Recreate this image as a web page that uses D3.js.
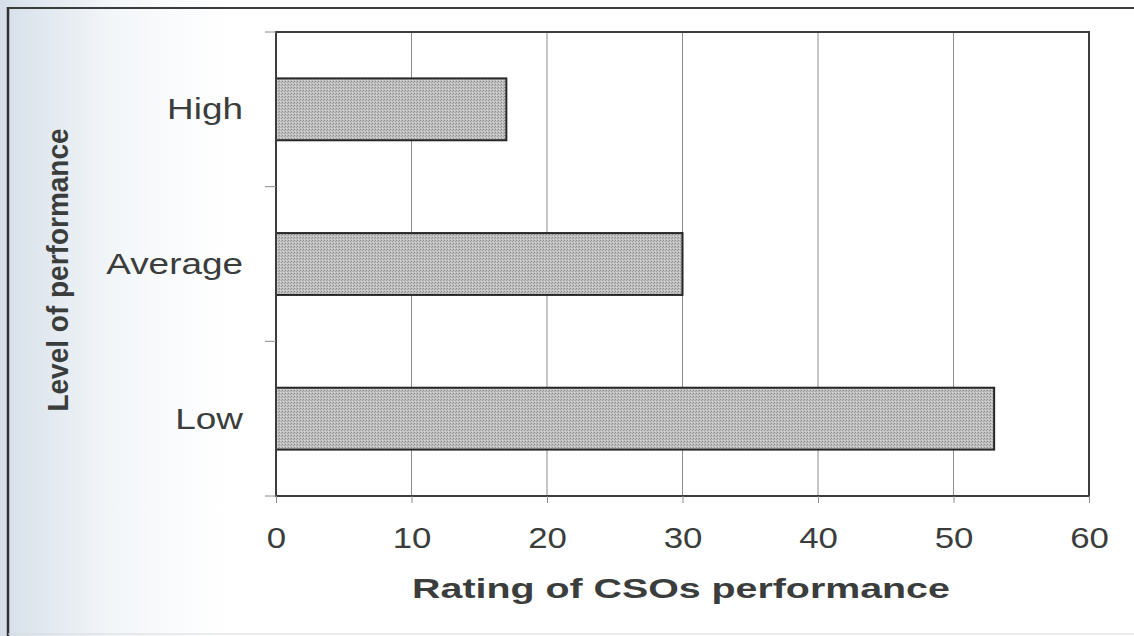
<!DOCTYPE html>
<html>
<head>
<meta charset="utf-8">
<script src="https://cdn.jsdelivr.net/npm/d3@7"></script>
<style>
  html, body { margin: 0; padding: 0; background: #fff; }
  svg { display: block; }
  text { font-family: "Liberation Sans", Arial, sans-serif; fill: #3a3d3c; }
</style>
</head>
<body>
<svg id="chart" width="1134" height="636"></svg>
<script>
// ---- data ----
const categories = ["High", "Average", "Low"];
const values = [17, 30, 53];
const xTicks = [0, 10, 20, 30, 40, 50, 60];
const xTitle = "Rating of CSOs performance";
const yTitle = "Level of performance";

// ---- layout ----
const W = 1134, H = 636;
const plot = { left: 276, right: 1089, top: 32, bottom: 496 };

const svg = d3.select("#chart");
const defs = svg.append("defs");

// background tint of the scanned page (left edge bluish)
const grad = defs.append("linearGradient").attr("id", "bg").attr("x1", 0).attr("x2", 1).attr("y1", 0).attr("y2", 0);
grad.append("stop").attr("offset", "0").attr("stop-color", "#d6dfe9");
grad.append("stop").attr("offset", "0.1").attr("stop-color", "#f3f6f9");
grad.append("stop").attr("offset", "0.2").attr("stop-color", "#ffffff");
grad.append("stop").attr("offset", "1").attr("stop-color", "#ffffff");
svg.append("rect").attr("width", W).attr("height", H).attr("fill", "url(#bg)");

// stippled bar fill
const pat = defs.append("pattern").attr("id", "stip").attr("width", 3).attr("height", 3)
  .attr("patternUnits", "userSpaceOnUse");
pat.append("rect").attr("width", 3).attr("height", 3).attr("fill", "#c0c0c0");
pat.append("rect").attr("x", 0).attr("y", 0).attr("width", 1).attr("height", 1).attr("fill", "#8a8a8a");
pat.append("rect").attr("x", 2).attr("y", 1).attr("width", 1).attr("height", 1).attr("fill", "#9c9c9c");
pat.append("rect").attr("x", 1).attr("y", 2).attr("width", 1).attr("height", 1).attr("fill", "#d6d6d6");

// outer frame of the page
svg.append("line").attr("x1", 7).attr("x2", W).attr("y1", 8).attr("y2", 8)
  .attr("stroke", "#3a3d3c").attr("stroke-width", 2);
svg.append("line").attr("x1", 8).attr("x2", 8).attr("y1", 7).attr("y2", H)
  .attr("stroke", "#2f3231").attr("stroke-width", 2.5);
svg.append("line").attr("x1", 8).attr("x2", W).attr("y1", 634).attr("y2", 634)
  .attr("stroke", "#d8dadc").attr("stroke-width", 1);

// ---- scales ----
const x = d3.scaleLinear().domain([0, 60]).range([plot.left, plot.right]);
const y = d3.scaleBand().domain(categories).range([plot.top, plot.bottom])
  .paddingInner(0.6).paddingOuter(0.3);

// gridlines
svg.append("g").selectAll("line").data(xTicks.slice(1, -1)).join("line")
  .attr("x1", d => x(d)).attr("x2", d => x(d))
  .attr("y1", plot.top).attr("y2", plot.bottom)
  .attr("stroke", "#8a8d8c").attr("stroke-width", 1);

// bars
svg.append("g").selectAll("rect").data(categories).join("rect")
  .attr("x", x(0))
  .attr("y", d => y(d))
  .attr("width", (d, i) => x(values[i]) - x(0))
  .attr("height", y.bandwidth())
  .attr("fill", "url(#stip)")
  .attr("stroke", "#262827").attr("stroke-width", 2);

// plot border
svg.append("rect").attr("x", plot.left).attr("y", plot.top)
  .attr("width", plot.right - plot.left).attr("height", plot.bottom - plot.top)
  .attr("fill", "none").attr("stroke", "#3a3d3c").attr("stroke-width", 2);

// x axis
const xAxis = svg.append("g").attr("transform", `translate(0,${plot.bottom})`)
  .call(d3.axisBottom(x).tickValues(xTicks).tickSize(7).tickPadding(24).tickFormat(d3.format("d")));
xAxis.select(".domain").remove();
xAxis.selectAll(".tick line").attr("stroke", "#8a8d8c");
xAxis.selectAll(".tick text").attr("font-size", 29).attr("fill", "#3a3d3c")
  .attr("font-family", "Liberation Sans, Arial, sans-serif").attr("dy", "0.71em");

// y axis: ticks at band boundaries
const step = y.step();
const bounds = [plot.top].concat(categories.map(c => y(c) + y.bandwidth() + step * y.paddingInner() / 2));
bounds[bounds.length - 1] = plot.bottom;
svg.append("g").selectAll("line").data(bounds).join("line")
  .attr("x1", plot.left - 11).attr("x2", plot.left)
  .attr("y1", d => d).attr("y2", d => d)
  .attr("stroke", "#8a8d8c").attr("stroke-width", 1);

// category labels
const catLabels = svg.append("g").selectAll("text").data(categories).join("text")
  .attr("x", 243)
  .attr("y", d => y(d) + y.bandwidth() / 2 + 10)
  .attr("text-anchor", "end")
  .attr("font-size", 30)
  .text(d => d);

// titles
const xt = svg.append("text").attr("x", 681).attr("y", 598)
  .attr("text-anchor", "middle").attr("font-size", 28).attr("font-weight", "bold")
  .text(xTitle);
const yt = svg.append("text")
  .attr("transform", "translate(68,270) scale(1.2,1) rotate(-90)")
  .attr("text-anchor", "middle").attr("font-size", 25).attr("font-weight", "bold")
  .text(yTitle);

// horizontal stretch of the scanned glyphs
function stretch(sel, f) {
  sel.each(function () {
    const L = this.getComputedTextLength();
    d3.select(this).attr("textLength", L * f).attr("lengthAdjust", "spacingAndGlyphs");
  });
}
stretch(catLabels, 1.23);
stretch(xAxis.selectAll(".tick text"), 1.2);
stretch(xt, 1.405);
stretch(yt, 1.12);
</script>
</body>
</html>
